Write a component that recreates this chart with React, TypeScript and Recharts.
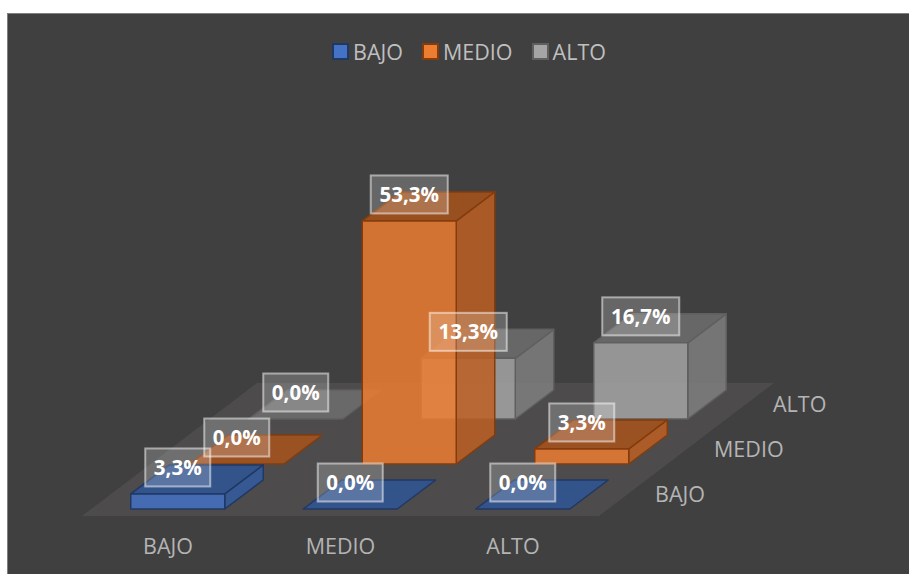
import { BarChart, Bar, XAxis, YAxis, Legend, LabelList } from 'recharts';

const categories = ['BAJO', 'MEDIO', 'ALTO'];
const seriesNames = ['BAJO', 'MEDIO', 'ALTO'];
const bajoValues = [3.3, 0, 0];
const medioValues = [0, 53.3, 3.3];
const altoValues = [0, 13.3, 16.7];

const data = categories.map((name, i) => ({
    name,
    BAJO: bajoValues[i],
    MEDIO: medioValues[i],
    ALTO: altoValues[i],
}));

const FONT = '"Open Sans", sans-serif';

// front, side, top and outline colours per series
const palette: any = {
    BAJO: { front: '#4472C4', side: '#335AA0', top: '#2F5597', line: '#203864' },
    MEDIO: { front: '#ED7D31', side: '#BC5F22', top: '#A9541C', line: '#843C0C' },
    ALTO: { front: '#A5A5A5', side: '#7F7F7F', top: '#6E6E6E', line: '#5F5F5F' },
};

// 3D look: each series sits further back, each box has a fixed depth
const stepX = 59;
const stepY = 45;
const boxX = 38.5;
const boxY = 29;

const makeBox = (name: string, row: number) => (props: any) => {
    const c = palette[name];
    const x = props.x + row * stepX;
    const y = props.y - row * stepY;
    const w = props.width;
    const h = props.height;
    const common = { stroke: c.line, strokeWidth: 1.5, fillOpacity: 0.85, strokeLinejoin: 'round' as const };
    return (
        <g>
            {h > 0 && (
                <polygon
                    points={`${x + w},${y} ${x + w + boxX},${y - boxY} ${x + w + boxX},${y + h - boxY} ${x + w},${y + h}`}
                    fill={c.side}
                    {...common}
                />
            )}
            <polygon
                points={`${x},${y} ${x + boxX},${y - boxY} ${x + w + boxX},${y - boxY} ${x + w},${y}`}
                fill={c.top}
                {...common}
            />
            {h > 0 && <rect x={x} y={y} width={w} height={h} fill={c.front} {...common} />}
        </g>
    );
};

const makeLabel = (row: number) => (props: any) => {
    const text = Number(props.value).toFixed(1).replace('.', ',') + '%';
    const cx = props.x + props.width / 2 + row * stepX;
    const cy = props.y - row * stepY - 26.5;
    const w = text.length > 4 ? 77 : 65;
    return (
        <g>
            <rect
                x={cx - w / 2}
                y={cy - 19}
                width={w}
                height={38}
                fill="#fff"
                fillOpacity={0.2}
                stroke="#fff"
                strokeOpacity={0.5}
                strokeWidth={2}
            />
            <text x={cx} y={cy + 7.5} textAnchor="middle" fill="#fff" fontFamily={FONT} fontWeight={700} fontSize={20.5}>
                {text}
            </text>
        </g>
    );
};

const LegendRow = () => (
    <div
        style={{
            height: 40,
            display: 'flex',
            justifyContent: 'center',
            alignItems: 'center',
            fontFamily: FONT,
            fontSize: 21.5,
            color: '#bfbfbf',
        }}
    >
        {seriesNames.map((name) => (
            <div key={name} style={{ display: 'flex', alignItems: 'center', margin: '0 9.5px' }}>
                <span
                    style={{
                        width: 13,
                        height: 13,
                        marginRight: 4,
                        background: palette[name].front,
                        border: `2px solid ${palette[name].line}`,
                    }}
                />
                {name}
            </div>
        ))}
    </div>
);

const App = () => {
    // back row first so the nearer boxes cover it
    const drawOrder = [2, 1, 0];
    return (
        <div style={{ position: 'absolute', left: 0, top: 0, width: 909, height: 574, overflow: 'hidden', background: '#fff' }}>
            <div
                style={{
                    position: 'absolute',
                    left: 7,
                    top: 13,
                    right: 0,
                    bottom: 0,
                    background: '#404040',
                    borderTop: '1px solid #7f7f7f',
                    borderLeft: '1px solid #7f7f7f',
                }}
            />
            <div style={{ position: 'absolute', left: 0, top: 0 }}>
                <BarChart
                    width={909}
                    height={574}
                    data={data}
                    barSize={94}
                    barGap={-94}
                    margin={{ top: 195.4, right: 299.75, bottom: 35, left: 91.75 }}
                >
                    <polygon points="82,516 599,516 774,383 257,383" fill="#4D4B4B" />
                    <YAxis hide domain={[0, 60]} />
                    <XAxis
                        dataKey="name"
                        height={30}
                        axisLine={false}
                        tickLine={false}
                        tickMargin={24}
                        dx={-10}
                        tick={{ fill: '#b4b4b4', fontFamily: FONT, fontSize: 21.5 }}
                    />
                    <Legend
                        verticalAlign="top"
                        content={<LegendRow />}
                        wrapperStyle={{ top: 31, left: 14.5, width: 909 }}
                    />
                    {drawOrder.map((row) => (
                        <Bar
                            key={seriesNames[row]}
                            dataKey={seriesNames[row]}
                            isAnimationActive={false}
                            shape={makeBox(seriesNames[row], row)}
                        />
                    ))}
                    {drawOrder.map((row) => (
                        <Bar
                            key={seriesNames[row] + '-label'}
                            dataKey={seriesNames[row]}
                            isAnimationActive={false}
                            shape={() => null}
                            legendType="none"
                        >
                            <LabelList dataKey={seriesNames[row]} content={makeLabel(row)} />
                        </Bar>
                    ))}
                    {seriesNames.map((name, row) => (
                        <text
                            key={name}
                            x={655 + row * stepX}
                            y={502 - row * stepY}
                            fill="#b4b4b4"
                            fontFamily={FONT}
                            fontSize={21.5}
                        >
                            {name}
                        </text>
                    ))}
                </BarChart>
            </div>
        </div>
    );
};

export default App;
